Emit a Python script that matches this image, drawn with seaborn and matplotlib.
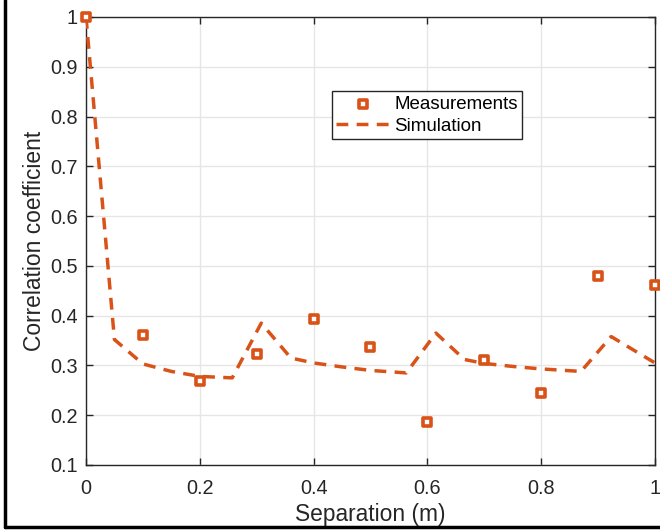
import numpy as np
import pandas as pd
import matplotlib
matplotlib.use("Agg")
import matplotlib.pyplot as plt
import seaborn as sns
from matplotlib.lines import Line2D

# measured correlation vs separation
meas_sep = [0.0, 0.1, 0.2, 0.3, 0.4, 0.5, 0.6, 0.7, 0.8, 0.9, 1.0]
meas_corr = [1.0, 0.362, 0.268, 0.323, 0.393, 0.338, 0.186, 0.311, 0.245, 0.480, 0.462]

# simulated curve
sim_sep = [0.0, 0.05, 0.1, 0.15, 0.2, 0.257, 0.308, 0.36, 0.4, 0.45, 0.5, 0.563,
           0.615, 0.665, 0.7, 0.75, 0.8, 0.87, 0.923, 1.0]
sim_corr = [1.0, 0.352, 0.303, 0.288, 0.278, 0.275, 0.385, 0.315, 0.305, 0.297, 0.290, 0.285,
            0.365, 0.312, 0.304, 0.298, 0.293, 0.288, 0.358, 0.305]

x_ticks = [0, 0.2, 0.4, 0.6, 0.8, 1]
x_labels = ["0", "0.2", "0.4", "0.6", "0.8", "1"]
y_ticks = [0.1, 0.2, 0.3, 0.4, 0.5, 0.6, 0.7, 0.8, 0.9, 1.0]
y_labels = ["0.1", "0.2", "0.3", "0.4", "0.5", "0.6", "0.7", "0.8", "0.9", "1"]

df_meas = pd.DataFrame({"sep": meas_sep, "corr": meas_corr})
df_sim = pd.DataFrame({"sep": sim_sep, "corr": sim_corr})

sns.set_style("whitegrid")
plt.rcParams["font.family"] = ["Liberation Sans", "DejaVu Sans"]
dark = "#262626"
orange = "#D95319"

fig = plt.figure(figsize=(6.6, 5.31), dpi=100)
ax = fig.add_axes([0.1303, 0.1243, 0.8621, 0.8437])

sns.lineplot(data=df_sim, x="sep", y="corr", ax=ax, color=orange, linewidth=2.5,
             linestyle=(0, (3.4, 2.4)), label="Simulation", zorder=3)
sns.scatterplot(data=df_meas, x="sep", y="corr", ax=ax, marker="s", s=34,
                facecolor="white", edgecolor=orange, linewidth=2.6,
                label="Measurements", zorder=4, clip_on=False)

ax.set_xlim(0, 1)
ax.set_ylim(0.1, 1)
ax.set_xticks(x_ticks)
ax.set_xticklabels(x_labels)
ax.set_yticks(y_ticks)
ax.set_yticklabels(y_labels)
ax.grid(True, color="#e6e6e6", linewidth=1)
ax.tick_params(direction="in", length=5, width=1, color=dark, labelcolor=dark,
               labelsize=14.3, top=True, right=True, bottom=True, left=True)
ax.tick_params(axis="x", pad=10)
ax.tick_params(axis="y", pad=6)
for s in ax.spines.values():
    s.set_visible(True)
    s.set_color(dark)
    s.set_linewidth(1)

ax.set_xlabel("Separation (m)", fontsize=16.4, color=dark, labelpad=4)
ax.set_ylabel("Correlation coefficient", fontsize=16.4, color=dark, labelpad=3)

h, l = ax.get_legend_handles_labels()
order = [l.index("Measurements"), l.index("Simulation")]
leg = ax.legend([h[i] for i in order], [l[i] for i in order],
                loc="upper left", bbox_to_anchor=(0.432, 0.835), fontsize=13.5,
                frameon=True, fancybox=False, framealpha=1, edgecolor=dark,
                handlelength=2.8, handletextpad=0.27, borderpad=0.25, labelspacing=0.25,
                borderaxespad=0)
leg.get_frame().set_linewidth(1)
for t in leg.get_texts():
    t.set_color("black")

# screenshot frame on left and bottom
fig.add_artist(Line2D([0.0076, 0.0076], [0.0075, 1.0], transform=fig.transFigure,
                      color="black", linewidth=2.5))
fig.add_artist(Line2D([0.0076, 1.0], [0.0075, 0.0075], transform=fig.transFigure,
                      color="black", linewidth=2.5))

fig.savefig("out.png", dpi=100)
